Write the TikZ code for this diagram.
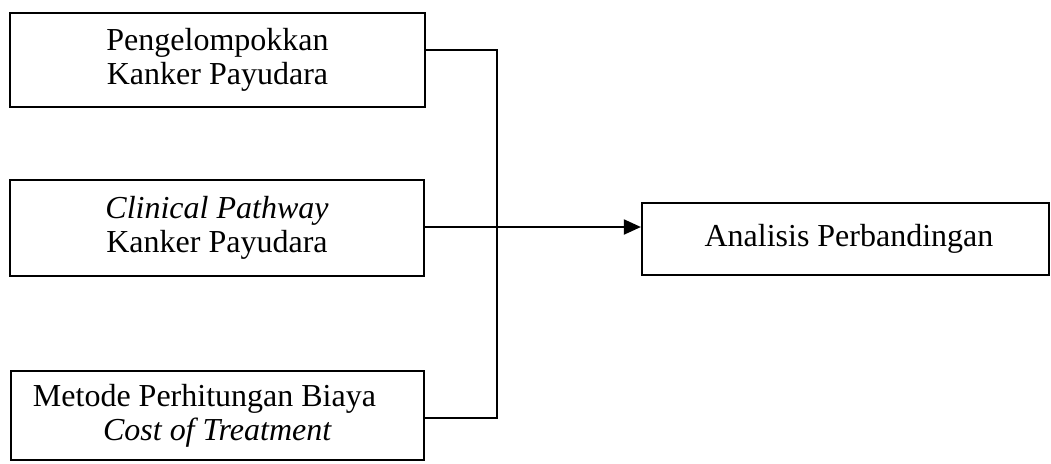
\documentclass[tikz,border=0pt]{standalone}
\usepackage{fontspec}
\setmainfont{Liberation Serif}
\usetikzlibrary{arrows.meta}
\begin{document}
\begin{tikzpicture}[x=0.5pt,y=-0.5pt,
  box/.style={draw=black,line width=1.1pt,fill=white,inner sep=0pt,align=center,
    font=\fontsize{16}{17}\selectfont},
  conn/.style={draw=black,line width=1pt},
  arr/.style={conn,-{Triangle[length=8.5pt,width=7.5pt]}}]
\useasboundingbox[fill=white] (0,0) rectangle (1051,463);
\node[box,minimum width=207.5pt,minimum height=47pt] (b1) at (217.5,60)
  {Pengelompokkan\\Kanker Payudara};
\node[box,minimum width=207pt,minimum height=48pt] (b2) at (217,228)
  {\textit{Clinical Pathway}\\Kanker Payudara};
\node[box,minimum width=206.5pt,minimum height=44.5pt] (b3) at (217.5,415.5)
  {Metode Perhitungan Biaya\hspace*{13pt}\\\textit{Cost of Treatment}};
\node[box,minimum width=203.5pt,minimum height=36pt] (an) at (845.5,239)
  {\hspace*{3.5pt}Analisis Perbandingan};
\coordinate (j1) at (497,50);
\coordinate (j3) at (497,418);
\draw[conn] (b1.east |- j1) -- (j1) -- (j3) -- (b3.east |- j3);
\draw[arr] (b2.east |- 0,227) -- (an.west |- 0,227);
\end{tikzpicture}
\end{document}
